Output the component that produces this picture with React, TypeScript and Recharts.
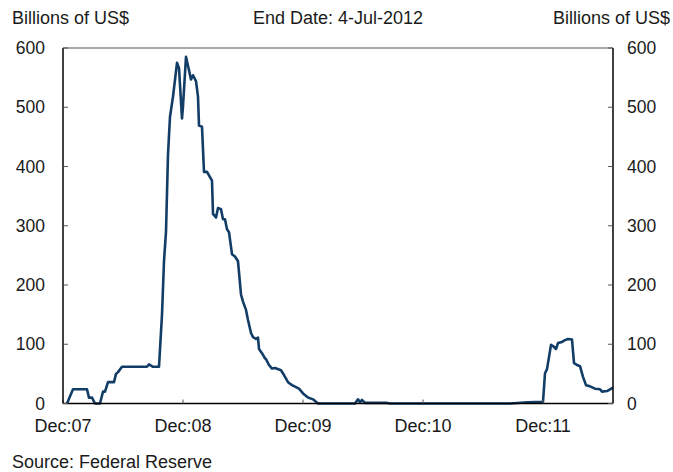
import { Line, LineChart, ReferenceLine, XAxis, YAxis } from 'recharts'

// months since Dec 2007
const months = [
  0.4, 1.0, 2.4, 2.6, 2.9, 3.2, 3.7, 4.0, 4.2, 4.5, 5.1, 5.3, 5.5, 5.9, 8.4, 8.6, 9.0, 9.6,
  9.9, 10.1, 10.3, 10.5, 10.7, 11.0, 11.4, 11.6, 11.9, 12.0, 12.3, 12.5, 12.8, 13.0, 13.3,
  13.5, 13.6, 13.9, 14.1, 14.4, 14.9, 15.0, 15.3, 15.5, 15.8, 16.0, 16.2, 16.4, 16.6, 16.9,
  17.2, 17.5, 17.8, 18.0, 18.3, 18.5, 18.8, 19.0, 19.3, 19.5, 19.6, 19.9, 20.2, 20.3, 20.6,
  20.9, 21.2, 21.8, 22.1, 22.5, 22.9, 23.6, 24.0, 24.5, 25.0, 25.5, 29.2, 29.5, 29.7, 29.9,
  30.2, 32.4, 32.7, 44.7, 46.5, 48.0, 48.2, 48.4, 48.8, 49.0, 49.3, 49.5, 49.9, 50.2, 50.5,
  50.9, 51.1, 51.4, 51.7, 52.0, 52.3, 52.7, 53.2, 53.7, 53.9, 54.4, 54.7, 55.0,
]
const swaps = [
  0, 24, 24, 10, 10, 0, 0, 20, 20, 36, 36, 50, 53, 62, 62, 66, 62, 62,
  150, 240, 290, 420, 484, 518, 575, 566, 481, 502, 585, 570, 547, 554, 544,
  518, 469, 467, 391, 391, 376, 320, 314, 330, 328, 311, 311, 294, 289, 252,
  248, 240, 184, 172, 158, 141, 119, 112, 109, 111, 92, 85, 76, 75, 65,
  59, 60, 56, 48, 36, 31, 25, 17, 10, 7, 0, 0, 7, 2, 6,
  1, 1, 0, 0, 2, 3, 51, 58, 99, 97, 92, 102, 104, 107, 109,
  108, 68, 65, 63, 45, 31, 29, 25, 24, 20, 21, 24, 27,
]
const xTicks = [0, 12, 24, 36, 48]
const xLabels = ['Dec:07', 'Dec:08', 'Dec:09', 'Dec:10', 'Dec:11']
const yTicks = [0, 100, 200, 300, 400, 500, 600]

const data = months.map((m, i) => ({ m, v: swaps[i] }))

const font = '"Liberation Sans", Arial, sans-serif'
const textColor = '#1a1a1a'
const yTickStyle = { fill: textColor, fontSize: 17.5, fontFamily: font }
const xTickStyle = { fill: textColor, fontSize: 18, fontFamily: font }

const label = (left: number, top: number, text: string, align: 'left' | 'right' | 'center' = 'left') => {
  const style: React.CSSProperties = {
    position: 'absolute',
    top,
    fontSize: 18,
    lineHeight: '18px',
    fontFamily: font,
    color: textColor,
    whiteSpace: 'nowrap',
  }
  if (align === 'left') style.left = left
  if (align === 'right') style.right = 673 - left
  if (align === 'center') {
    style.left = left
    style.transform = 'translateX(-50%)'
  }
  return <div style={style}>{text}</div>
}

export default function App() {
  return (
    <div style={{ position: 'absolute', left: 0, top: 0, width: 673, height: 472, background: '#fff' }}>
      {label(12, 9, 'Billions of US$')}
      {label(338, 9, 'End Date: 4-Jul-2012', 'center')}
      {label(670, 9, 'Billions of US$', 'right')}
      {label(12, 453, 'Source: Federal Reserve')}
      <LineChart
        width={673}
        height={472}
        data={data}
        margin={{ top: 48, right: 0, left: 0, bottom: 38.5 }}
      >
        <XAxis
          dataKey="m"
          type="number"
          domain={[0, 55]}
          ticks={xTicks}
          tickFormatter={(v) => xLabels[xTicks.indexOf(v)] ?? ''}
          height={30}
          tickSize={-4}
          tickMargin={20}
          tick={xTickStyle}
          axisLine={{ stroke: '#000', strokeWidth: 1.5 }}
          tickLine={{ stroke: '#555' }}
          interval={0}
        />
        <YAxis
          yAxisId="left"
          domain={[0, 600]}
          ticks={yTicks}
          width={63}
          tickSize={-5}
          tickMargin={23}
          tick={yTickStyle}
          axisLine={{ stroke: '#000', strokeWidth: 1.5 }}
          tickLine={{ stroke: '#555' }}
          interval={0}
        />
        <YAxis
          yAxisId="right"
          orientation="right"
          domain={[0, 600]}
          ticks={yTicks}
          width={60}
          tickSize={-5}
          tickMargin={19}
          tick={yTickStyle}
          axisLine={{ stroke: '#000', strokeWidth: 1.5 }}
          tickLine={{ stroke: '#555' }}
          interval={0}
        />
        <ReferenceLine yAxisId="left" y={600} stroke="#555" strokeWidth={1.2} />
        <Line
          yAxisId="right"
          dataKey="v"
          stroke="none"
          dot={false}
          activeDot={false}
          isAnimationActive={false}
        />
        <Line
          yAxisId="left"
          dataKey="v"
          type="linear"
          stroke="#123d66"
          strokeWidth={2.6}
          strokeLinejoin="round"
          dot={false}
          isAnimationActive={false}
        />
      </LineChart>
    </div>
  )
}
